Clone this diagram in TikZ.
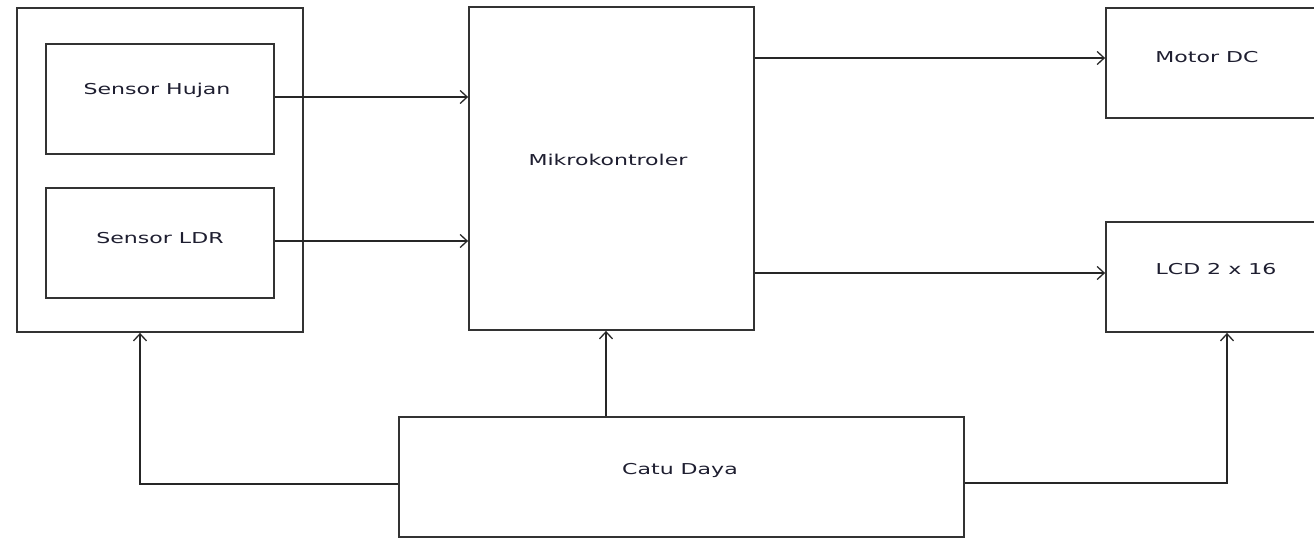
\documentclass[tikz,border=0pt]{standalone}
\usepackage{fontspec}
\setmainfont{DejaVu Sans}
\usetikzlibrary{arrows.meta}
\definecolor{boxline}{HTML}{333333}
\definecolor{txt}{HTML}{1E1E30}
\tikzset{
  blk/.style={draw=boxline, line width=1.8pt, minimum width=#1, inner sep=0pt},
  lbl/.style={text=txt, font=\fontsize{15pt}{17pt}\selectfont, xscale=1.47, inner sep=0pt},
  conn/.style={draw=black!85, line width=1.2pt},
  arr/.style={conn, -{Straight Barb[length=7pt,width=13pt,line width=1.3pt]}}
}
\begin{document}
\begin{tikzpicture}[x=1pt,y=-1pt]
\useasboundingbox (0,0) rectangle (1314,538);
\clip (0,0) rectangle (1314,538);
% boxes
\node[blk=286pt, minimum height=324pt] (outer) at (160,170) {};
\node[blk=228pt, minimum height=110pt] (hujan) at (160,99) {};
\node[blk=228pt, minimum height=110pt] (ldr) at (160,243) {};
\node[blk=285pt, minimum height=323pt] (mikro) at (611.5,168.5) {};
\node[blk=230pt, minimum height=110pt] (motor) at (1221,63) {};
\node[blk=230pt, minimum height=110pt] (lcd) at (1221,277) {};
\node[blk=565pt, minimum height=120pt] (catu) at (681.5,477) {};
% labels
\node[lbl] (thujan) at (157,90) {Sensor Hujan};
\node[lbl] (tldr) at (160,238) {Sensor LDR};
\node[lbl] (tmikro) at (608,160) {Mikrokontroler};
\node[lbl] (tmotor) at (1207,57) {Motor DC};
\node[lbl] (tlcd) at (1216,269) {LCD 2 x 16};
\node[lbl] (tcatu) at (680,470) {Catu Daya};
% coordinates
\coordinate (cl) at (140,484);
\coordinate (cr) at (1227,483);
% connectors
\draw[arr] (hujan.east |- 0,97) -- (mikro.west |- 0,97);
\draw[arr] (ldr.east |- 0,241) -- (mikro.west |- 0,241);
\draw[arr] (mikro.east |- 0,58) -- (motor.west |- 0,58);
\draw[arr] (mikro.east |- 0,273) -- (lcd.west |- 0,273);
\draw[arr] (catu.north -| 606,0) -- (mikro.south -| 606,0);
\draw[arr] (catu.west |- cl) -- (cl) -- (outer.south -| cl);
\draw[arr] (catu.east |- cr) -- (cr) -- (lcd.south -| cr);
\end{tikzpicture}
\end{document}
